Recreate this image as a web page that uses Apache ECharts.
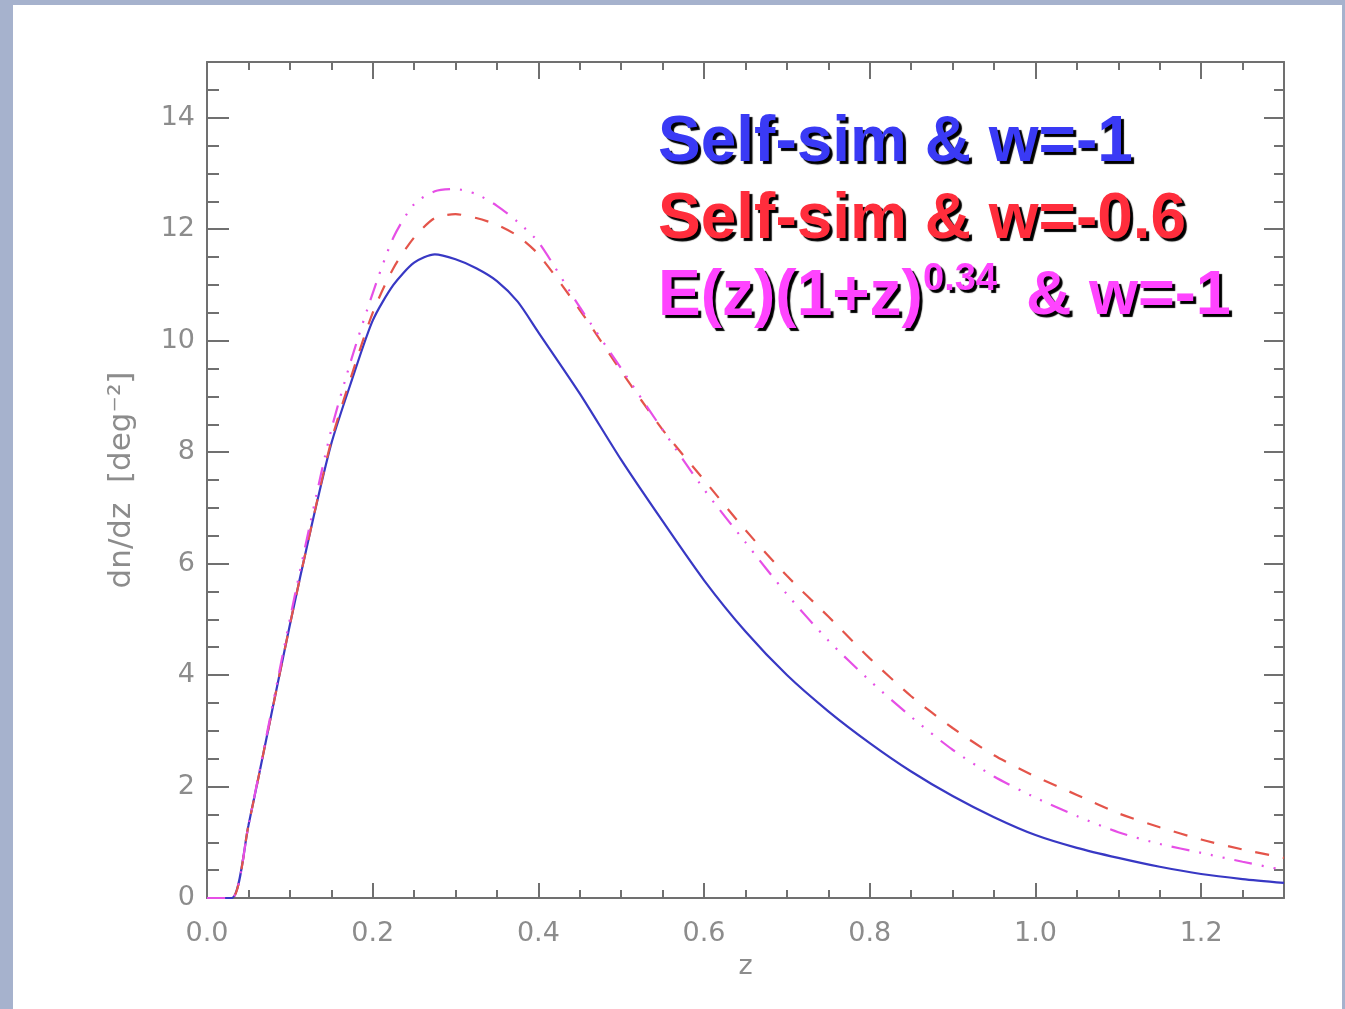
<!DOCTYPE html>
<html>
<head>
<meta charset="utf-8">
<script src="https://cdn.jsdelivr.net/npm/echarts@6/dist/echarts.min.js"></script>
<style>
  html, body { margin: 0; padding: 0; width: 1345px; height: 1009px; overflow: hidden; background: #a6b2cd; }
  #chart { position: absolute; left: 13px; top: 5px; width: 1329px; height: 1004px; background: #ffffff; }
</style>
</head>
<body>
<div id="chart"></div>
<script>
// redshift grid
var zValues = [0, 0.03, 0.05, 0.075, 0.1, 0.125, 0.15, 0.175, 0.2, 0.225, 0.25, 0.275, 0.3, 0.325, 0.35, 0.375, 0.4, 0.45, 0.5, 0.55, 0.6, 0.65, 0.7, 0.75, 0.8, 0.85, 0.9, 0.95, 1.0, 1.05, 1.1, 1.15, 1.2, 1.25, 1.3];
// Self-sim & w=-1 (solid blue)
var selfSimW1 = [0, 0, 1.3, 3.1, 4.9, 6.6, 8.15, 9.3, 10.36, 11.0, 11.4, 11.55, 11.46, 11.3, 11.07, 10.7, 10.15, 9.05, 7.86, 6.76, 5.7, 4.78, 4.0, 3.35, 2.78, 2.27, 1.83, 1.45, 1.13, 0.9, 0.72, 0.56, 0.43, 0.34, 0.27];
// Self-sim & w=-0.6 (dashed red)
var selfSimW06 = [0, 0, 1.3, 3.1, 4.9, 6.6, 8.2, 9.4, 10.5, 11.3, 11.85, 12.2, 12.27, 12.2, 12.08, 11.88, 11.55, 10.55, 9.45, 8.4, 7.5, 6.6, 5.78, 5.05, 4.3, 3.62, 3.05, 2.56, 2.18, 1.85, 1.52, 1.27, 1.05, 0.87, 0.72];
// E(z)(1+z)^0.34 & w=-1 (dash-dot-dot-dot magenta)
var evolW1 = [0, 0, 1.3, 3.15, 5.0, 6.75, 8.4, 9.7, 10.85, 11.85, 12.45, 12.68, 12.72, 12.63, 12.42, 12.13, 11.77, 10.6, 9.5, 8.4, 7.33, 6.38, 5.45, 4.62, 3.9, 3.25, 2.66, 2.18, 1.8, 1.47, 1.18, 0.97, 0.81, 0.65, 0.5];

var legendLine1 = 'Self-sim & w=-1';
var legendLine2 = 'Self-sim & w=-0.6';
var legendLine3a = 'E(z)(1+z)';
var legendLine3sup = '0.34';
var legendLine3b = '& w=-1';

function pairs(vals) {
  return zValues.map(function (z, i) { return [z, vals[i]]; });
}

var axisColor = '#707070';
var labelColor = '#8c8c8c';
var labelFont = 'DejaVu Sans';

function xAxisDef(pos, majorLen, withLabels) {
  return {
    type: 'value', min: 0, max: 1.3, interval: 0.2, position: pos,
    axisLine: { show: true, onZero: false, lineStyle: { color: axisColor, width: 2 } },
    axisTick: { show: true, inside: true, length: majorLen, lineStyle: { color: axisColor, width: 2 } },
    minorTick: { show: true, splitNumber: 4, length: 8, lineStyle: { color: axisColor, width: 2 } },
    axisLabel: withLabels ? {
      show: true, color: labelColor, fontSize: 27, fontFamily: labelFont, margin: 22,
      showMaxLabel: false,
      formatter: function (v) { return Math.abs(v - 1.3) < 1e-6 ? '' : v.toFixed(1); }
    } : { show: false },
    splitLine: { show: false },
    name: withLabels ? 'z' : '', nameLocation: 'middle', nameGap: 55,
    nameTextStyle: { color: labelColor, fontSize: 27, fontFamily: labelFont }
  };
}
function yAxisDef(pos, majorLen, minorLen, withLabels) {
  return {
    type: 'value', min: 0, max: 15, interval: 2, position: pos,
    axisLine: { show: true, onZero: false, lineStyle: { color: axisColor, width: 2 } },
    axisTick: { show: true, inside: true, length: majorLen, lineStyle: { color: axisColor, width: 2 } },
    minorTick: { show: true, splitNumber: 4, length: minorLen, lineStyle: { color: axisColor, width: 2 } },
    axisLabel: withLabels ? {
      show: true, color: labelColor, fontSize: 27, fontFamily: labelFont, margin: 12,
      showMaxLabel: false,
      formatter: function (v) { return v === 15 ? '' : String(v); }
    } : { show: false },
    splitLine: { show: false },
    name: withLabels ? 'dn/dz  [deg\u207B\u00B2]' : '', nameLocation: 'middle', nameGap: 70, nameRotate: 90,
    nameTextStyle: { color: labelColor, fontSize: 31, fontFamily: labelFont }
  };
}

var shadow = { textShadowColor: '#000000', textShadowOffsetX: 3, textShadowOffsetY: 3, textShadowBlur: 1 };
function legendText(x, y, text, color, size) {
  return {
    type: 'text', x: x, y: y, z: 100,
    style: Object.assign({
      text: text, fill: color, font: 'bold ' + size + 'px "Liberation Sans", Arial, sans-serif',
      verticalAlign: 'middle', align: 'left'
    }, shadow)
  };
}

var chart = echarts.init(document.getElementById('chart'), null, { renderer: 'canvas' });
chart.setOption({
  backgroundColor: '#ffffff',
  animation: false,
  grid: { left: 194, top: 57, width: 1077, height: 836, containLabel: false },
  xAxis: [
    xAxisDef('bottom', 15, true),
    xAxisDef('top', 17, false)
  ],
  yAxis: [
    yAxisDef('left', 22, 12, true),
    yAxisDef('right', 20, 10, false)
  ],
  series: [
    {
      type: 'line', name: 'Self-sim & w=-1', data: pairs(selfSimW1), xAxisIndex: 0, yAxisIndex: 0,
      showSymbol: false, smooth: 0.25, lineStyle: { color: '#3838c4', width: 2.2 }, z: 3
    },
    {
      type: 'line', name: 'Self-sim & w=-0.6', data: pairs(selfSimW06), xAxisIndex: 0, yAxisIndex: 0,
      showSymbol: false, smooth: 0.25, lineStyle: { color: '#e4544a', width: 2.2, type: [14, 14] }, z: 4
    },
    {
      type: 'line', name: 'E(z)(1+z)^0.34 & w=-1', data: pairs(evolW1), xAxisIndex: 0, yAxisIndex: 0,
      showSymbol: false, smooth: 0.25, lineStyle: { color: '#e64fe6', width: 2.2, type: [18, 10, 2, 10, 2, 10, 2, 10] }, z: 5
    }
  ],
  graphic: [
    legendText(645, 138, legendLine1, '#3a3af5', 64),
    legendText(645, 215, legendLine2, '#ff2d3c', 64),
    legendText(645, 292, legendLine3a, '#ff44ff', 64),
    legendText(910, 275, legendLine3sup, '#ff44ff', 38),
    legendText(1013, 292, legendLine3b, '#ff44ff', 63)
  ]
});
</script>
</body>
</html>
